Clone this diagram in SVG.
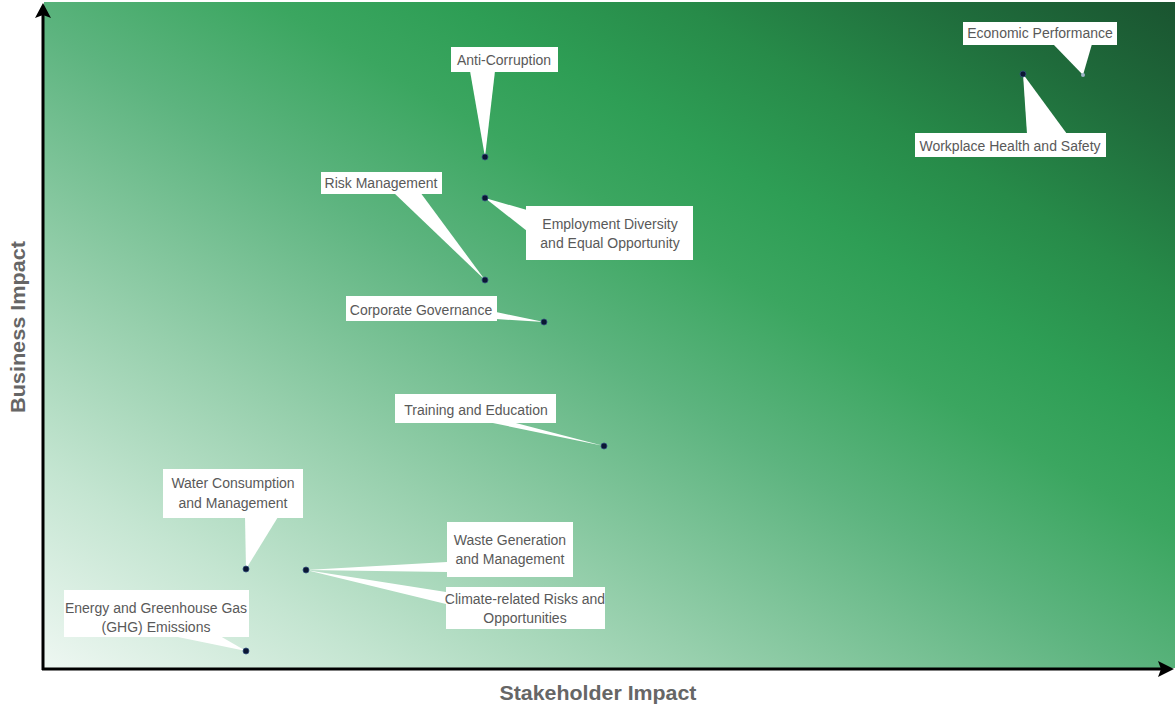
<svg xmlns="http://www.w3.org/2000/svg" width="1175" height="711" viewBox="0 0 1175 711">
<style>
.lbl{font-family:"Liberation Sans",Arial,sans-serif;font-size:14px;fill:#595959;text-anchor:middle}
.ax{font-family:"Liberation Sans",Arial,sans-serif;font-size:20px;font-weight:bold;fill:#666;text-anchor:middle}
.box{fill:#fff}
.dot{fill:#0b1733;stroke:#34507e;stroke-width:0.8}
.axis{stroke:#000;stroke-width:3;fill:none}
</style>
<defs>
<linearGradient id="bg" x1="0" y1="1" x2="1" y2="0">
<stop offset="0" stop-color="#eef7f2"/>
<stop offset="0.15" stop-color="#c4e5d1"/>
<stop offset="0.3" stop-color="#96cfac"/>
<stop offset="0.48" stop-color="#5db47f"/>
<stop offset="0.6" stop-color="#3ba660"/>
<stop offset="0.68" stop-color="#2e9e55"/>
<stop offset="0.78" stop-color="#278b49"/>
<stop offset="0.9" stop-color="#1f6b3b"/>
<stop offset="1" stop-color="#1a5430"/>
</linearGradient>
</defs>
<rect x="44" y="2" width="1131" height="666" fill="url(#bg)"/>
<g id="axes">
<line class="axis" x1="43" y1="670" x2="43" y2="14"/>
<polygon points="43,3 35,18 43,15 51,18" fill="#000"/>
<line class="axis" x1="42" y1="669" x2="1162" y2="669"/>
<polygon points="1174,669 1158,661 1161,669 1158,677" fill="#000"/>
<text class="ax" x="598" y="700" textLength="197" lengthAdjust="spacingAndGlyphs">Stakeholder Impact</text>
<text class="ax" transform="translate(25,327) rotate(-90)" x="0" y="0" textLength="172" lengthAdjust="spacingAndGlyphs">Business Impact</text>
</g>
<g id="connectors">
<polygon class="box" points="470,71 495,71 485,157"/>
<polygon class="box" points="527,210 527,231 485,198"/>
<polygon class="box" points="393,192 420,192 485,280"/>
<polygon class="box" points="496,312 496,319 544,322"/>
<polygon class="box" points="488,422 512,422 604,446"/>
<polygon class="box" points="1053,44 1092,44 1083,75"/>
<polygon class="box" points="1027,134 1067,134 1023,74"/>
<polygon class="box" points="245,517 278,517 246,569"/>
<polygon class="box" points="173,636 220,636 246,651"/>
<polygon class="box" points="306,570 447,562 447,572"/>
<polygon class="box" points="306,570 446,592 446,604"/>
</g>
<g id="anti-corruption"><rect class="box" x="451" y="47" width="107" height="25"/><text class="lbl" x="504" y="65">Anti-Corruption</text><circle class="dot" cx="485" cy="157" r="3"/></g>
<g id="employment-diversity"><rect class="box" x="526" y="206" width="167" height="54"/><text class="lbl" x="610" y="229">Employment Diversity</text><text class="lbl" x="610" y="248">and Equal Opportunity</text><circle class="dot" cx="485" cy="198" r="3"/></g>
<g id="risk-management"><rect class="box" x="321" y="172" width="121" height="22"/><text class="lbl" x="381" y="188">Risk Management</text><circle class="dot" cx="485" cy="280" r="3"/></g>
<g id="corporate-governance"><rect class="box" x="346" y="296" width="151" height="25"/><text class="lbl" x="421" y="315">Corporate Governance</text><circle class="dot" cx="544" cy="322" r="3"/></g>
<g id="training-education"><rect class="box" x="395" y="394" width="161" height="29"/><text class="lbl" x="476" y="415">Training and Education</text><circle class="dot" cx="604" cy="446" r="3"/></g>
<g id="economic-performance"><rect class="box" x="963" y="22" width="154" height="23"/><text class="lbl" x="1040" y="38">Economic Performance</text><circle cx="1083" cy="75" r="2" fill="#9fb4c8"/></g>
<g id="workplace-health"><rect class="box" x="915" y="133" width="191" height="24"/><text class="lbl" x="1010" y="151">Workplace Health and Safety</text><circle class="dot" cx="1023" cy="74" r="3"/></g>
<g id="water-consumption"><rect class="box" x="163" y="469" width="140" height="49"/><text class="lbl" x="233" y="488">Water Consumption</text><text class="lbl" x="233" y="508">and Management</text><circle class="dot" cx="246" cy="569" r="3"/></g>
<g id="energy-ghg"><rect class="box" x="64" y="590" width="185" height="47"/><text class="lbl" x="156" y="613">Energy and Greenhouse Gas</text><text class="lbl" x="156" y="632">(GHG) Emissions</text><circle class="dot" cx="246" cy="651" r="3"/></g>
<g id="waste-generation"><rect class="box" x="447" y="522" width="126" height="55"/><text class="lbl" x="510" y="545">Waste Generation</text><text class="lbl" x="510" y="564">and Management</text><circle class="dot" cx="306" cy="570" r="3"/></g>
<g id="climate-risks"><rect class="box" x="446" y="587" width="159" height="42"/><text class="lbl" x="525" y="604">Climate-related Risks and</text><text class="lbl" x="525" y="623">Opportunities</text></g>
</svg>
